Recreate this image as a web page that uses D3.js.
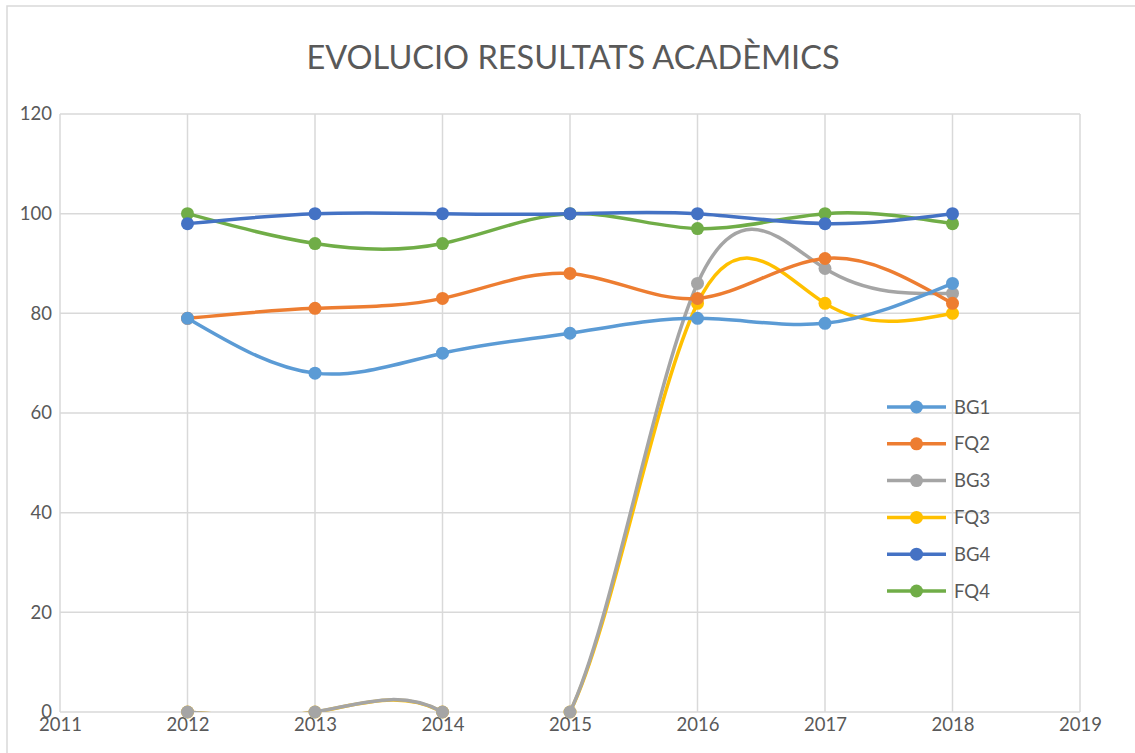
<!DOCTYPE html>
<html lang="ca">
<head>
    <meta charset="UTF-8">
    <script src="https://cdnjs.cloudflare.com/ajax/libs/d3/7.8.5/d3.min.js"></script>
    <title>Evolucio resultats</title>
    <style>
        body { margin: 0; background: #fff; }
        text { font-family: Lato, 'Open Sans', sans-serif; fill: #595959; }
    </style>
</head>
<body>
    <div id="chart"></div>
    <script>
        // Data
        const years = [2012, 2013, 2014, 2015, 2016, 2017, 2018];
        const seriesNames = ["BG1", "FQ2", "BG3", "FQ3", "BG4", "FQ4"];
        const bg1 = [79, 68, 72, 76, 79, 78, 86];
        const fq2 = [79, 81, 83, 88, 83, 91, 82];
        const bg3 = [0, 0, 0, 0, 86, 89, 84];
        const fq3 = [0, 0, 0, 0, 82, 82, 80];
        const bg4 = [98, 100, 100, 100, 100, 98, 100];
        const fq4 = [100, 94, 94, 100, 97, 100, 98];
        const xTicks = [2011, 2012, 2013, 2014, 2015, 2016, 2017, 2018, 2019];
        const yTicks = [0, 20, 40, 60, 80, 100, 120];
        const colors = ["#5B9BD5", "#ED7D31", "#A5A5A5", "#FFC000", "#4472C4", "#70AD47"];

        const width = 1135, height = 753;
        const margin = { top: 114, right: 55, bottom: 41, left: 60 };

        const series = [bg1, fq2, bg3, fq3, bg4, fq4].map((vals, i) => ({
            name: seriesNames[i],
            color: colors[i],
            points: years.map((y, j) => ({ year: y, value: vals[j] }))
        }));

        const svg = d3.select("#chart").append("svg")
            .attr("width", width)
            .attr("height", height);

        // chart border
        svg.append("rect")
            .attr("x", 7).attr("y", 6)
            .attr("width", width + 10).attr("height", height + 10)
            .attr("fill", "none")
            .attr("stroke", "#d9d9d9")
            .attr("stroke-width", 1.5);

        const x = d3.scaleLinear()
            .domain([2011, 2019])
            .range([margin.left, width - margin.right]);

        const y = d3.scaleLinear()
            .domain([0, 120])
            .range([height - margin.bottom, margin.top]);

        // title
        svg.append("text")
            .attr("x", 573)
            .attr("y", 69)
            .attr("text-anchor", "middle")
            .style("font-size", "32.5px")
            .text("EVOLUCIO RESULTATS ACADÈMICS");

        // gridlines
        const grid = svg.append("g");
        grid.selectAll("line.h")
            .data(yTicks)
            .join("line")
            .attr("class", "h")
            .attr("x1", x(2011)).attr("x2", x(2019))
            .attr("y1", d => y(d)).attr("y2", d => y(d))
            .attr("stroke", "#d9d9d9")
            .attr("stroke-width", 1.5);
        grid.selectAll("line.v")
            .data(xTicks)
            .join("line")
            .attr("class", "v")
            .attr("x1", d => x(d)).attr("x2", d => x(d))
            .attr("y1", y(0)).attr("y2", y(120))
            .attr("stroke", "#d9d9d9")
            .attr("stroke-width", 1.5);

        // axes (labels only, lines come from the grid)
        const yAxis = svg.append("g")
            .attr("transform", `translate(${margin.left},0)`)
            .call(d3.axisLeft(y).tickValues(yTicks).tickSize(0).tickPadding(8));
        const xAxis = svg.append("g")
            .attr("transform", `translate(0,${height - margin.bottom})`)
            .call(d3.axisBottom(x).tickValues(xTicks).tickFormat(d3.format("d")).tickSize(0).tickPadding(6));
        [yAxis, xAxis].forEach(a => {
            a.select(".domain").remove();
            a.selectAll("text")
                .style("font-size", "18.5px")
                .attr("fill", "#595959");
        });

        // clip lines to the plot area (the smoothing dips below 0)
        svg.append("clipPath")
            .attr("id", "plotClip")
            .append("rect")
            .attr("x", x(2011))
            .attr("y", y(120))
            .attr("width", x(2019) - x(2011))
            .attr("height", y(0) - y(120));

        // Excel smoothed line ~ natural cubic spline
        const line = d3.line()
            .x(d => x(d.year))
            .y(d => y(d.value))
            .curve(d3.curveNatural);

        // Excel draws later series underneath
        const plot = svg.append("g");
        series.slice().reverse().forEach(s => {
            const g = plot.append("g");
            g.append("path")
                .datum(s.points)
                .attr("clip-path", "url(#plotClip)")
                .attr("d", line)
                .attr("fill", "none")
                .attr("stroke", s.color)
                .attr("stroke-width", 3.5)
                .attr("stroke-linecap", "round");
            g.selectAll("circle")
                .data(s.points)
                .join("circle")
                .attr("cx", d => x(d.year))
                .attr("cy", d => y(d.value))
                .attr("r", 6.5)
                .attr("fill", s.color);
        });

        // legend
        const legend = svg.append("g")
            .attr("transform", "translate(887,407)");
        const items = legend.selectAll("g")
            .data(series)
            .join("g")
            .attr("transform", (d, i) => `translate(0,${i * 36.8})`);
        items.append("line")
            .attr("x1", 0).attr("x2", 59)
            .attr("stroke", d => d.color)
            .attr("stroke-width", 3.5);
        items.append("circle")
            .attr("cx", 29.5)
            .attr("r", 6.5)
            .attr("fill", d => d.color);
        items.append("text")
            .attr("x", 67)
            .attr("dy", "0.36em")
            .style("font-size", "18.5px")
            .text(d => d.name);
    </script>
</body>
</html>
